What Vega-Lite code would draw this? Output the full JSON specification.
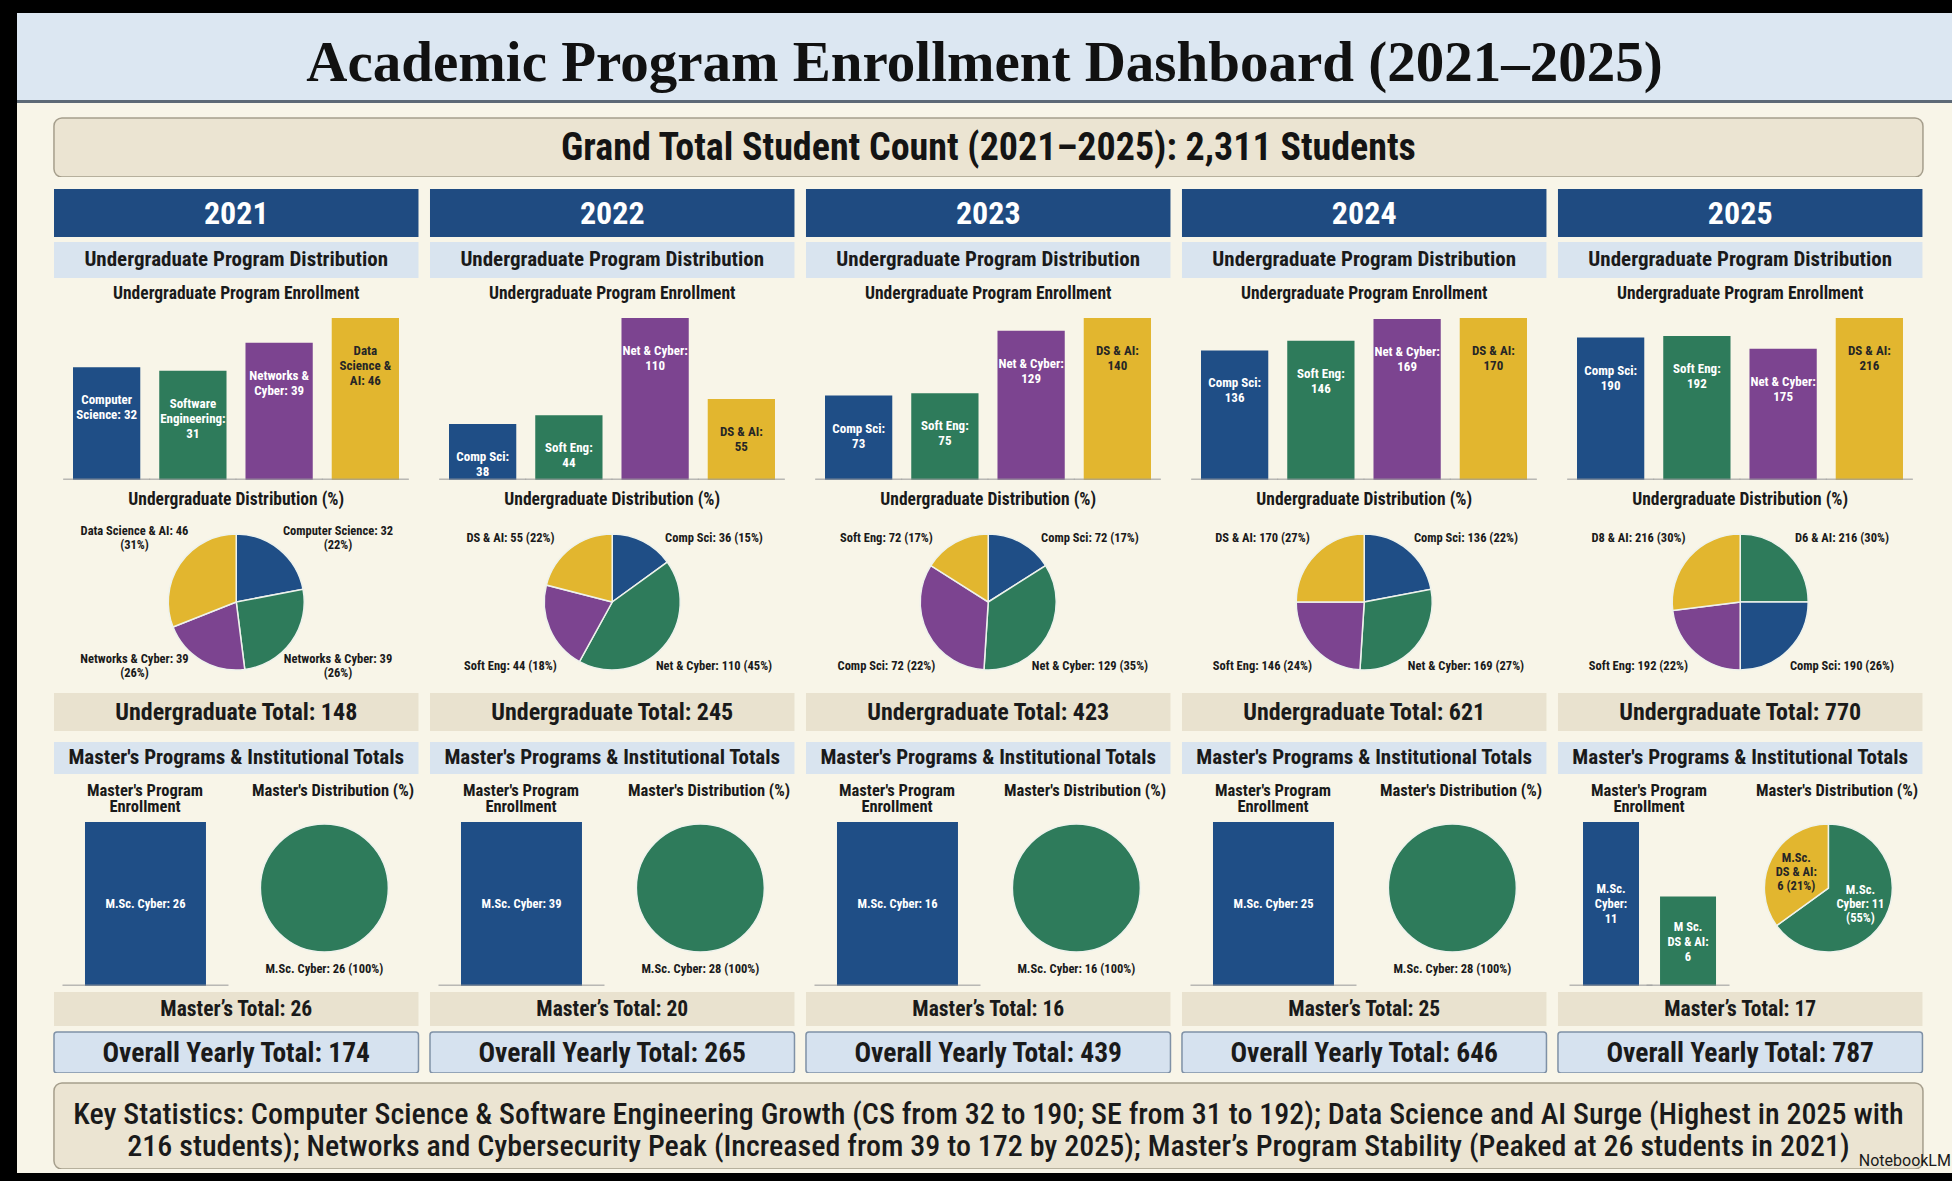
{
"$schema":"https://vega.github.io/schema/vega-lite/v6.json",
"background":"#000000",
"padding":{"left":17,"top":13,"right":0,"bottom":8},
"bounds":"flush",
"spacing":0,
"config":{"view":{"stroke":null,"fill":"#f8f5e8"},"concat":{"spacing":0},"facet":{"spacing":0},"axis":{"disable":true},
"text":{"font":"'Roboto Condensed','Noto Sans Condensed','Liberation Sans Narrow','DejaVu Sans Condensed',Roboto,sans-serif","lineBreak":"\n","color":"#1a1a1a","fontWeight":"bold"}},
"datasets":{
"yrs":[
{"year":"2021","ug":"Undergraduate Total: 148","ms":"Master’s Total: 26","all":"Overall Yearly Total: 174"},
{"year":"2022","ug":"Undergraduate Total: 245","ms":"Master’s Total: 20","all":"Overall Yearly Total: 265"},
{"year":"2023","ug":"Undergraduate Total: 423","ms":"Master’s Total: 16","all":"Overall Yearly Total: 439"},
{"year":"2024","ug":"Undergraduate Total: 621","ms":"Master’s Total: 25","all":"Overall Yearly Total: 646"},
{"year":"2025","ug":"Undergraduate Total: 770","ms":"Master’s Total: 17","all":"Overall Yearly Total: 787"}],
"mt":[
{"slot":"2021a","t":"Master's Program\nEnrollment"},{"slot":"2021b","t":"Master's Distribution (%)"},
{"slot":"2022a","t":"Master's Program\nEnrollment"},{"slot":"2022b","t":"Master's Distribution (%)"},
{"slot":"2023a","t":"Master's Program\nEnrollment"},{"slot":"2023b","t":"Master's Distribution (%)"},
{"slot":"2024a","t":"Master's Program\nEnrollment"},{"slot":"2024b","t":"Master's Distribution (%)"},
{"slot":"2025a","t":"Master's Program\nEnrollment"},{"slot":"2025b","t":"Master's Distribution (%)"}],
"ugb":[
{"year":"2021","prog":"CS","hue":"blue","v":32,"lab":"Computer\nScience: 32"},
{"year":"2021","prog":"SE","hue":"green","v":31,"lab":"Software\nEngineering:\n31"},
{"year":"2021","prog":"NC","hue":"purple","v":39,"lab":"Networks &\nCyber: 39"},
{"year":"2021","prog":"DS","hue":"yellow","v":46,"lab":"Data\nScience &\nAI: 46"},
{"year":"2022","prog":"CS","hue":"blue","v":38,"lab":"Comp Sci:\n38"},
{"year":"2022","prog":"SE","hue":"green","v":44,"lab":"Soft Eng:\n44"},
{"year":"2022","prog":"NC","hue":"purple","v":110,"lab":"Net & Cyber:\n110"},
{"year":"2022","prog":"DS","hue":"yellow","v":55,"lab":"DS & AI:\n55"},
{"year":"2023","prog":"CS","hue":"blue","v":73,"lab":"Comp Sci:\n73"},
{"year":"2023","prog":"SE","hue":"green","v":75,"lab":"Soft Eng:\n75"},
{"year":"2023","prog":"NC","hue":"purple","v":129,"lab":"Net & Cyber:\n129"},
{"year":"2023","prog":"DS","hue":"yellow","v":140,"lab":"DS & AI:\n140"},
{"year":"2024","prog":"CS","hue":"blue","v":136,"lab":"Comp Sci:\n136"},
{"year":"2024","prog":"SE","hue":"green","v":146,"lab":"Soft Eng:\n146"},
{"year":"2024","prog":"NC","hue":"purple","v":169,"lab":"Net & Cyber:\n169"},
{"year":"2024","prog":"DS","hue":"yellow","v":170,"lab":"DS & AI:\n170"},
{"year":"2025","prog":"CS","hue":"blue","v":190,"lab":"Comp Sci:\n190"},
{"year":"2025","prog":"SE","hue":"green","v":192,"lab":"Soft Eng:\n192"},
{"year":"2025","prog":"NC","hue":"purple","v":175,"lab":"Net & Cyber:\n175"},
{"year":"2025","prog":"DS","hue":"yellow","v":216,"lab":"DS & AI:\n216"}],
"ugp":[
{"year":"2021","hue":"blue","seq":1,"share":22,"lab":"Computer Science: 32\n(22%)"},
{"year":"2021","hue":"green","seq":2,"share":26,"lab":"Networks & Cyber: 39\n(26%)"},
{"year":"2021","hue":"purple","seq":3,"share":21,"lab":"Networks & Cyber: 39\n(26%)"},
{"year":"2021","hue":"yellow","seq":4,"share":31,"lab":"Data Science & AI: 46\n(31%)"},
{"year":"2022","hue":"blue","seq":1,"share":15,"lab":"Comp Sci: 36 (15%)"},
{"year":"2022","hue":"green","seq":2,"share":43,"lab":"Net & Cyber: 110 (45%)"},
{"year":"2022","hue":"purple","seq":3,"share":21,"lab":"Soft Eng: 44 (18%)"},
{"year":"2022","hue":"yellow","seq":4,"share":21,"lab":"DS & AI: 55 (22%)"},
{"year":"2023","hue":"blue","seq":1,"share":16,"lab":"Comp Sci: 72 (17%)"},
{"year":"2023","hue":"green","seq":2,"share":35,"lab":"Net & Cyber: 129 (35%)"},
{"year":"2023","hue":"purple","seq":3,"share":33,"lab":"Comp Sci: 72 (22%)"},
{"year":"2023","hue":"yellow","seq":4,"share":16,"lab":"Soft Eng: 72 (17%)"},
{"year":"2024","hue":"blue","seq":1,"share":22,"lab":"Comp Sci: 136 (22%)"},
{"year":"2024","hue":"green","seq":2,"share":29,"lab":"Net & Cyber: 169 (27%)"},
{"year":"2024","hue":"purple","seq":3,"share":24,"lab":"Soft Eng: 146 (24%)"},
{"year":"2024","hue":"yellow","seq":4,"share":25,"lab":"DS & AI: 170 (27%)"},
{"year":"2025","hue":"green","seq":1,"share":25,"lab":"D6 & AI: 216 (30%)"},
{"year":"2025","hue":"blue","seq":2,"share":25,"lab":"Comp Sci: 190 (26%)"},
{"year":"2025","hue":"purple","seq":3,"share":23,"lab":"Soft Eng: 192 (22%)"},
{"year":"2025","hue":"yellow","seq":4,"share":27,"lab":"D8 & AI: 216 (30%)"}],
"msb":[
{"year":"2021","prog":"Cyber","hue":"blue","v":26,"lab":"M.Sc. Cyber: 26"},
{"year":"2022","prog":"Cyber","hue":"blue","v":39,"lab":"M.Sc. Cyber: 39"},
{"year":"2023","prog":"Cyber","hue":"blue","v":16,"lab":"M.Sc. Cyber: 16"},
{"year":"2024","prog":"Cyber","hue":"blue","v":25,"lab":"M.Sc. Cyber: 25"},
{"year":"2025","prog":"Cyber","hue":"blue","v":11,"lab":"M.Sc.\nCyber:\n11"},
{"year":"2025","prog":"DS","hue":"green","v":6,"lab":"M Sc.\nDS & AI:\n6"}],
"msp":[
{"year":"2021","hue":"green","seq":1,"share":100,"lab":"M.Sc. Cyber: 26 (100%)"},
{"year":"2022","hue":"green","seq":1,"share":100,"lab":"M.Sc. Cyber: 28 (100%)"},
{"year":"2023","hue":"green","seq":1,"share":100,"lab":"M.Sc. Cyber: 16 (100%)"},
{"year":"2024","hue":"green","seq":1,"share":100,"lab":"M.Sc. Cyber: 28 (100%)"},
{"year":"2025","hue":"green","seq":1,"share":65,"lab":"M.Sc.\nCyber: 11\n(55%)"},
{"year":"2025","hue":"yellow","seq":2,"share":35,"lab":"M.Sc.\nDS & AI:\n6 (21%)"}]
},
"vconcat":[
{"width":1935,"height":87,"view":{"fill":"#dce7f2"},"data":{"values":[{"t":"Academic Program Enrollment Dashboard (2021–2025)"}]},"mark":{"type":"text","font":"Liberation Serif","fontWeight":"bold","fontSize":57,"color":"#111111","baseline":"middle","dy":7},"encoding":{"text":{"field":"t"}}},
{"width":1935,"height":3,"data":{"values":[{}]},"mark":{"type":"rect","width":{"band":1},"fill":"#5d6976"},"encoding":{"x":{"datum":"s","type":"nominal","axis":null,"scale":{"paddingInner":0,"paddingOuter":0}}}},
{"width":1935,"height":15,"data":{"values":[{}]},"mark":{"type":"rect","width":{"band":1},"fill":"#f8f5e8"},"encoding":{"x":{"datum":"s","type":"nominal","axis":null,"scale":{"paddingInner":0,"paddingOuter":0}}}},
{"width":1935,"height":59,"data":{"values":[{"k":"box","t":"Grand Total Student Count (2021–2025): 2,311 Students"}]},"encoding":{"x":{"field":"k","type":"nominal","axis":null,"scale":{"paddingInner":0,"paddingOuter":0.01766,"align":0.56}}},
 "layer":[{"mark":{"type":"rect","width":{"band":1},"fill":"#ebe4d2","stroke":"#a59e8c","strokeWidth":1.5,"cornerRadius":8}},
 {"mark":{"type":"text","fontSize":38,"baseline":"middle","dy":1,"color":"#141414"},"encoding":{"text":{"field":"t"}}}]},
{"width":1935,"height":12,"data":{"values":[{}]},"mark":{"type":"rect","width":{"band":1},"fill":"#f8f5e8"},"encoding":{"x":{"datum":"s","type":"nominal","axis":null,"scale":{"paddingInner":0,"paddingOuter":0}}}},
{"width":1935,"height":48,"data":{"name":"yrs"},"encoding":{"x":{"field":"year","type":"nominal","axis":null,"scale":{"type":"band","paddingInner":0.0306,"paddingOuter":0.0885,"align":0.556}}},
 "layer":[{"mark":{"type":"rect","width":{"band":1},"fill":"#1f4b81"}},{"mark":{"type":"text","fontSize":32,"color":"#ffffff","baseline":"middle","dy":1},"encoding":{"text":{"field":"year"}}}]},
{"width":1935,"height":5,"data":{"values":[{}]},"mark":{"type":"rect","width":{"band":1},"fill":"#f8f5e8"},"encoding":{"x":{"datum":"s","type":"nominal","axis":null,"scale":{"paddingInner":0,"paddingOuter":0}}}},
{"width":1935,"height":36,"data":{"name":"yrs"},"encoding":{"x":{"field":"year","type":"nominal","axis":null,"scale":{"type":"band","paddingInner":0.0306,"paddingOuter":0.0885,"align":0.556}}},
 "layer":[{"mark":{"type":"rect","width":{"band":1},"fill":"#d9e4ef"}},{"mark":{"type":"text","fontSize":21,"baseline":"middle","text":"Undergraduate Program Distribution"}}]},
{"width":1935,"height":40,"data":{"name":"yrs"},"mark":{"type":"text","fontSize":17.5,"baseline":"middle","dy":-4,"text":"Undergraduate Program Enrollment"},"encoding":{"x":{"field":"year","type":"nominal","axis":null,"scale":{"type":"band","paddingInner":0.0306,"paddingOuter":0.0885,"align":0.556}}}},
{"spacing":0,"hconcat":[
 {"width":31,"height":162,"data":{"values":[{}]},"mark":{"type":"rect","width":{"band":1},"fill":"#f8f5e8"},"encoding":{"x":{"datum":"s","type":"nominal","axis":null,"scale":{"paddingInner":0,"paddingOuter":0}}}},
 {"data":{"name":"ugb"},"spacing":0,"facet":{"column":{"field":"year","type":"nominal","title":null,"header":{"labels":false,"title":null}}},
  "resolve":{"scale":{"y":"independent"}},
  "spec":{"width":376,"height":162,
   "encoding":{"x":{"field":"prog","type":"nominal","axis":null,"sort":["CS","SE","NC","DS"],"scale":{"paddingInner":0.22,"paddingOuter":0.29}}},
   "layer":[
    {"mark":"bar","encoding":{"y":{"field":"v","type":"quantitative","axis":null,"scale":{"nice":false}},"color":{"field":"hue","type":"nominal","legend":null,"scale":{"domain":["blue","green","purple","yellow"],"range":["#1f4e86","#2e7b5b","#7c4490","#e2b62f"]}}}},
    {"mark":{"type":"tick","size":87,"thickness":3,"color":"#9e9e9e","clip":true},"encoding":{"y":{"datum":0,"type":"quantitative","axis":null}}},
    {"mark":{"type":"text","baseline":"top","dy":27,"fontSize":13,"lineHeight":15},"encoding":{"y":{"field":"v","type":"quantitative","axis":null},"text":{"field":"lab"},"color":{"condition":{"test":"datum.hue==='yellow'","value":"#262626"},"value":"#ffffff"}}}
   ]}},
 {"width":24,"height":162,"data":{"values":[{}]},"mark":{"type":"rect","width":{"band":1},"fill":"#f8f5e8"},"encoding":{"x":{"datum":"s","type":"nominal","axis":null,"scale":{"paddingInner":0,"paddingOuter":0}}}}
]},
{"width":1935,"height":162,"view":{"fill":"transparent"},"data":{"values":[]},"mark":"rect","encoding":{}},
{"width":1935,"height":34,"data":{"name":"yrs"},"mark":{"type":"text","fontSize":17.5,"baseline":"middle","dy":3,"text":"Undergraduate Distribution (%)"},"encoding":{"x":{"field":"year","type":"nominal","axis":null,"scale":{"type":"band","paddingInner":0.0306,"paddingOuter":0.0885,"align":0.556}}}},
{"width":1935,"height":176,"data":{"name":"ugp"},
 "encoding":{"x":{"field":"year","type":"nominal","axis":null,"scale":{"type":"band","paddingInner":0.0306,"paddingOuter":0.0885,"align":0.556}}},
 "layer":[
  {"transform":[{"stack":"share","groupby":["year"],"sort":[{"field":"seq","order":"ascending"}],"as":["t0","t1"]}],
   "mark":{"type":"arc","outerRadius":68,"stroke":"#eef2ec","strokeWidth":1.5},"encoding":{"theta":{"field":"t0","type":"quantitative","stack":null,"scale":{"domain":[0,100]}},"theta2":{"field":"t1"},"color":{"field":"hue","type":"nominal","legend":null,"scale":{"domain":["blue","green","purple","yellow"],"range":["#1f4e86","#2e7b5b","#7c4490","#e2b62f"]}}}},
  {"transform":[{"filter":"datum.year==='2021'"}],"mark":{"type":"text","radius":120,"dy":-7,"fontSize":12.5,"lineHeight":14,"baseline":"middle"},"encoding":{"theta":{"field":"seq","type":"quantitative","stack":null,"scale":{"domain":[1,2,3,4],"range":[1.012,2.129,4.154,5.271]}},"text":{"field":"lab"}}},
  {"transform":[{"filter":"datum.year!=='2021'"}],"mark":{"type":"text","radius":120,"fontSize":12.5,"baseline":"middle"},"encoding":{"theta":{"field":"seq","type":"quantitative","stack":null,"scale":{"domain":[1,2,3,4],"range":[1.012,2.129,4.154,5.271]}},"text":{"field":"lab"}}}
 ],
 "resolve":{"scale":{"theta":"independent"}}},
{"width":1935,"height":3,"data":{"values":[{}]},"mark":{"type":"rect","width":{"band":1},"fill":"#f8f5e8"},"encoding":{"x":{"datum":"s","type":"nominal","axis":null,"scale":{"paddingInner":0,"paddingOuter":0}}}},
{"width":1935,"height":38,"data":{"name":"yrs"},"encoding":{"x":{"field":"year","type":"nominal","axis":null,"scale":{"type":"band","paddingInner":0.0306,"paddingOuter":0.0885,"align":0.556}}},
 "layer":[{"mark":{"type":"rect","width":{"band":1},"fill":"#e9e2cf"}},{"mark":{"type":"text","fontSize":24,"baseline":"middle","dy":1},"encoding":{"text":{"field":"ug"}}}]},
{"width":1935,"height":11,"data":{"values":[{}]},"mark":{"type":"rect","width":{"band":1},"fill":"#f8f5e8"},"encoding":{"x":{"datum":"s","type":"nominal","axis":null,"scale":{"paddingInner":0,"paddingOuter":0}}}},
{"width":1935,"height":32,"data":{"name":"yrs"},"encoding":{"x":{"field":"year","type":"nominal","axis":null,"scale":{"type":"band","paddingInner":0.0306,"paddingOuter":0.0885,"align":0.556}}},
 "layer":[{"mark":{"type":"rect","width":{"band":1},"fill":"#d9e4ef"}},{"mark":{"type":"text","fontSize":21,"baseline":"middle","text":"Master's Programs & Institutional Totals"}}]},
{"width":1935,"height":48,"data":{"name":"mt"},"mark":{"type":"text","fontSize":16.5,"lineHeight":16,"baseline":"top","dy":-15},"encoding":{"x":{"field":"slot","type":"nominal","axis":null,"scale":{"type":"band","paddingInner":0,"paddingOuter":0.1463,"align":0.618}},"text":{"field":"t"}}},
{"spacing":0,"hconcat":[
 {"width":31,"height":164,"data":{"values":[{}]},"mark":{"type":"rect","width":{"band":1},"fill":"#f8f5e8"},"encoding":{"x":{"datum":"s","type":"nominal","axis":null,"scale":{"paddingInner":0,"paddingOuter":0}}}},
 {"width":188,"height":164,"data":{"name":"msb"},"transform":[{"filter":"datum.year==='2021'"}],"encoding":{"x":{"field":"prog","type":"nominal","axis":null,"scale":{"paddingInner":0,"paddingOuter":0.277,"align":0.552}}},
  "layer":[{"mark":"bar","encoding":{"y":{"field":"v","type":"quantitative","axis":null,"scale":{"nice":false}},"color":{"field":"hue","type":"nominal","legend":null,"scale":{"domain":["blue","green","purple","yellow"],"range":["#1f4e86","#2e7b5b","#7c4490","#e2b62f"]}}}},
   {"mark":{"type":"tick","size":166,"thickness":3,"color":"#9e9e9e","clip":true},"encoding":{"y":{"datum":0,"type":"quantitative","axis":null}}},
   {"mark":{"type":"text","baseline":"middle","dy":82,"fontSize":12.5,"color":"#ffffff"},"encoding":{"y":{"field":"v","type":"quantitative","axis":null},"text":{"field":"lab"}}}]},
 {"width":188,"height":164,"data":{"name":"msp"},"transform":[{"filter":"datum.year==='2021'"}],
  "encoding":{"x":{"datum":"c","type":"nominal","axis":null,"scale":{"paddingInner":0,"paddingOuter":0}}},
  "layer":[{"mark":{"type":"rect","width":{"band":1},"fill":"#f8f5e8"}},
   {"mark":{"type":"arc","outerRadius":64,"yOffset":-16,"stroke":"#eef2ec","strokeWidth":1.5},"encoding":{"x":{"datum":"c","type":"nominal","bandPosition":0.47},"theta":{"field":"share","type":"quantitative","stack":true},"order":{"field":"seq","type":"quantitative"},"color":{"field":"hue","type":"nominal","legend":null,"scale":{"domain":["blue","green","purple","yellow"],"range":["#1f4e86","#2e7b5b","#7c4490","#e2b62f"]}}}},
   {"mark":{"type":"text","radius":81,"dy":-16,"fontSize":12.5,"baseline":"middle"},"encoding":{"x":{"datum":"c","type":"nominal","bandPosition":0.47},"theta":{"field":"share","type":"quantitative","stack":true},"order":{"field":"seq","type":"quantitative"},"text":{"field":"lab"}}}]},
 {"width":188,"height":164,"data":{"name":"msb"},"transform":[{"filter":"datum.year==='2022'"}],"encoding":{"x":{"field":"prog","type":"nominal","axis":null,"scale":{"paddingInner":0,"paddingOuter":0.277,"align":0.552}}},
  "layer":[{"mark":"bar","encoding":{"y":{"field":"v","type":"quantitative","axis":null,"scale":{"nice":false}},"color":{"field":"hue","type":"nominal","legend":null,"scale":{"domain":["blue","green","purple","yellow"],"range":["#1f4e86","#2e7b5b","#7c4490","#e2b62f"]}}}},
   {"mark":{"type":"tick","size":166,"thickness":3,"color":"#9e9e9e","clip":true},"encoding":{"y":{"datum":0,"type":"quantitative","axis":null}}},
   {"mark":{"type":"text","baseline":"middle","dy":82,"fontSize":12.5,"color":"#ffffff"},"encoding":{"y":{"field":"v","type":"quantitative","axis":null},"text":{"field":"lab"}}}]},
 {"width":188,"height":164,"data":{"name":"msp"},"transform":[{"filter":"datum.year==='2022'"}],
  "encoding":{"x":{"datum":"c","type":"nominal","axis":null,"scale":{"paddingInner":0,"paddingOuter":0}}},
  "layer":[{"mark":{"type":"rect","width":{"band":1},"fill":"#f8f5e8"}},
   {"mark":{"type":"arc","outerRadius":64,"yOffset":-16,"stroke":"#eef2ec","strokeWidth":1.5},"encoding":{"x":{"datum":"c","type":"nominal","bandPosition":0.47},"theta":{"field":"share","type":"quantitative","stack":true},"order":{"field":"seq","type":"quantitative"},"color":{"field":"hue","type":"nominal","legend":null,"scale":{"domain":["blue","green","purple","yellow"],"range":["#1f4e86","#2e7b5b","#7c4490","#e2b62f"]}}}},
   {"mark":{"type":"text","radius":81,"dy":-16,"fontSize":12.5,"baseline":"middle"},"encoding":{"x":{"datum":"c","type":"nominal","bandPosition":0.47},"theta":{"field":"share","type":"quantitative","stack":true},"order":{"field":"seq","type":"quantitative"},"text":{"field":"lab"}}}]},
 {"width":188,"height":164,"data":{"name":"msb"},"transform":[{"filter":"datum.year==='2023'"}],"encoding":{"x":{"field":"prog","type":"nominal","axis":null,"scale":{"paddingInner":0,"paddingOuter":0.277,"align":0.552}}},
  "layer":[{"mark":"bar","encoding":{"y":{"field":"v","type":"quantitative","axis":null,"scale":{"nice":false}},"color":{"field":"hue","type":"nominal","legend":null,"scale":{"domain":["blue","green","purple","yellow"],"range":["#1f4e86","#2e7b5b","#7c4490","#e2b62f"]}}}},
   {"mark":{"type":"tick","size":166,"thickness":3,"color":"#9e9e9e","clip":true},"encoding":{"y":{"datum":0,"type":"quantitative","axis":null}}},
   {"mark":{"type":"text","baseline":"middle","dy":82,"fontSize":12.5,"color":"#ffffff"},"encoding":{"y":{"field":"v","type":"quantitative","axis":null},"text":{"field":"lab"}}}]},
 {"width":188,"height":164,"data":{"name":"msp"},"transform":[{"filter":"datum.year==='2023'"}],
  "encoding":{"x":{"datum":"c","type":"nominal","axis":null,"scale":{"paddingInner":0,"paddingOuter":0}}},
  "layer":[{"mark":{"type":"rect","width":{"band":1},"fill":"#f8f5e8"}},
   {"mark":{"type":"arc","outerRadius":64,"yOffset":-16,"stroke":"#eef2ec","strokeWidth":1.5},"encoding":{"x":{"datum":"c","type":"nominal","bandPosition":0.47},"theta":{"field":"share","type":"quantitative","stack":true},"order":{"field":"seq","type":"quantitative"},"color":{"field":"hue","type":"nominal","legend":null,"scale":{"domain":["blue","green","purple","yellow"],"range":["#1f4e86","#2e7b5b","#7c4490","#e2b62f"]}}}},
   {"mark":{"type":"text","radius":81,"dy":-16,"fontSize":12.5,"baseline":"middle"},"encoding":{"x":{"datum":"c","type":"nominal","bandPosition":0.47},"theta":{"field":"share","type":"quantitative","stack":true},"order":{"field":"seq","type":"quantitative"},"text":{"field":"lab"}}}]},
 {"width":188,"height":164,"data":{"name":"msb"},"transform":[{"filter":"datum.year==='2024'"}],"encoding":{"x":{"field":"prog","type":"nominal","axis":null,"scale":{"paddingInner":0,"paddingOuter":0.277,"align":0.552}}},
  "layer":[{"mark":"bar","encoding":{"y":{"field":"v","type":"quantitative","axis":null,"scale":{"nice":false}},"color":{"field":"hue","type":"nominal","legend":null,"scale":{"domain":["blue","green","purple","yellow"],"range":["#1f4e86","#2e7b5b","#7c4490","#e2b62f"]}}}},
   {"mark":{"type":"tick","size":166,"thickness":3,"color":"#9e9e9e","clip":true},"encoding":{"y":{"datum":0,"type":"quantitative","axis":null}}},
   {"mark":{"type":"text","baseline":"middle","dy":82,"fontSize":12.5,"color":"#ffffff"},"encoding":{"y":{"field":"v","type":"quantitative","axis":null},"text":{"field":"lab"}}}]},
 {"width":188,"height":164,"data":{"name":"msp"},"transform":[{"filter":"datum.year==='2024'"}],
  "encoding":{"x":{"datum":"c","type":"nominal","axis":null,"scale":{"paddingInner":0,"paddingOuter":0}}},
  "layer":[{"mark":{"type":"rect","width":{"band":1},"fill":"#f8f5e8"}},
   {"mark":{"type":"arc","outerRadius":64,"yOffset":-16,"stroke":"#eef2ec","strokeWidth":1.5},"encoding":{"x":{"datum":"c","type":"nominal","bandPosition":0.47},"theta":{"field":"share","type":"quantitative","stack":true},"order":{"field":"seq","type":"quantitative"},"color":{"field":"hue","type":"nominal","legend":null,"scale":{"domain":["blue","green","purple","yellow"],"range":["#1f4e86","#2e7b5b","#7c4490","#e2b62f"]}}}},
   {"mark":{"type":"text","radius":81,"dy":-16,"fontSize":12.5,"baseline":"middle"},"encoding":{"x":{"datum":"c","type":"nominal","bandPosition":0.47},"theta":{"field":"share","type":"quantitative","stack":true},"order":{"field":"seq","type":"quantitative"},"text":{"field":"lab"}}}]},
 {"width":188,"height":164,"data":{"name":"msb"},"transform":[{"filter":"datum.year==='2025'"}],"encoding":{"x":{"field":"prog","type":"nominal","axis":null,"sort":["Cyber","DS"],"scale":{"paddingInner":0.273,"paddingOuter":0.357,"align":0.564}}},
  "layer":[{"mark":"bar","encoding":{"y":{"field":"v","type":"quantitative","axis":null,"scale":{"nice":false}},"color":{"field":"hue","type":"nominal","legend":null,"scale":{"domain":["blue","green","purple","yellow"],"range":["#1f4e86","#2e7b5b","#7c4490","#e2b62f"]}}}},
   {"mark":{"type":"tick","size":83,"thickness":3,"color":"#9e9e9e","clip":true},"encoding":{"y":{"datum":0,"type":"quantitative","axis":null}}},
   {"transform":[{"filter":"datum.prog==='Cyber'"}],"mark":{"type":"text","baseline":"middle","dy":67,"fontSize":12.5,"lineHeight":15,"color":"#ffffff"},"encoding":{"y":{"field":"v","type":"quantitative","axis":null},"text":{"field":"lab"}}},
   {"transform":[{"filter":"datum.prog==='DS'"}],"mark":{"type":"text","baseline":"middle","dy":30,"fontSize":12.5,"lineHeight":15,"color":"#ffffff"},"encoding":{"y":{"field":"v","type":"quantitative","axis":null},"text":{"field":"lab"}}}]},
 {"width":188,"height":164,"data":{"name":"msp"},"transform":[{"filter":"datum.year==='2025'"}],
  "encoding":{"x":{"datum":"c","type":"nominal","axis":null,"scale":{"paddingInner":0,"paddingOuter":0}}},
  "layer":[{"mark":{"type":"rect","width":{"band":1},"fill":"#f8f5e8"}},
   {"mark":{"type":"arc","outerRadius":64,"yOffset":-16,"stroke":"#eef2ec","strokeWidth":1.5},"encoding":{"x":{"datum":"c","type":"nominal","bandPosition":0.47},"theta":{"field":"share","type":"quantitative","stack":true},"order":{"field":"seq","type":"quantitative"},"color":{"field":"hue","type":"nominal","legend":null,"scale":{"domain":["blue","green","purple","yellow"],"range":["#1f4e86","#2e7b5b","#7c4490","#e2b62f"]}}}},
   {"mark":{"type":"text","radius":36,"dy":-30,"fontSize":12.5,"lineHeight":14,"baseline":"middle"},"encoding":{"x":{"datum":"c","type":"nominal","bandPosition":0.47},"theta":{"field":"share","type":"quantitative","stack":true},"order":{"field":"seq","type":"quantitative"},"text":{"field":"lab"},"color":{"condition":{"test":"datum.hue==='yellow'","value":"#262626"},"value":"#ffffff"}}}]},
 {"width":24,"height":164,"data":{"values":[{}]},"mark":{"type":"rect","width":{"band":1},"fill":"#f8f5e8"},"encoding":{"x":{"datum":"s","type":"nominal","axis":null,"scale":{"paddingInner":0,"paddingOuter":0}}}}
]},
{"width":1935,"height":164,"view":{"fill":"transparent"},"data":{"values":[]},"mark":"rect","encoding":{}},
{"width":1935,"height":6,"data":{"values":[{}]},"mark":{"type":"rect","width":{"band":1},"fill":"#f8f5e8"},"encoding":{"x":{"datum":"s","type":"nominal","axis":null,"scale":{"paddingInner":0,"paddingOuter":0}}}},
{"width":1935,"height":34,"data":{"name":"yrs"},"encoding":{"x":{"field":"year","type":"nominal","axis":null,"scale":{"type":"band","paddingInner":0.0306,"paddingOuter":0.0885,"align":0.556}}},
 "layer":[{"mark":{"type":"rect","width":{"band":1},"fill":"#e9e2cf"}},{"mark":{"type":"text","fontSize":21.5,"baseline":"middle","dy":1},"encoding":{"text":{"field":"ms"}}}]},
{"width":1935,"height":6,"data":{"values":[{}]},"mark":{"type":"rect","width":{"band":1},"fill":"#f8f5e8"},"encoding":{"x":{"datum":"s","type":"nominal","axis":null,"scale":{"paddingInner":0,"paddingOuter":0}}}},
{"width":1935,"height":41,"data":{"name":"yrs"},"encoding":{"x":{"field":"year","type":"nominal","axis":null,"scale":{"type":"band","paddingInner":0.0306,"paddingOuter":0.0885,"align":0.556}}},
 "layer":[{"mark":{"type":"rect","width":{"band":1},"fill":"#d6e2ef","stroke":"#7f91a6","strokeWidth":1.5,"cornerRadius":3}},{"mark":{"type":"text","fontSize":27.5,"baseline":"middle","dy":1},"encoding":{"text":{"field":"all"}}}]},
{"width":1935,"height":10,"data":{"values":[{}]},"mark":{"type":"rect","width":{"band":1},"fill":"#f8f5e8"},"encoding":{"x":{"datum":"s","type":"nominal","axis":null,"scale":{"paddingInner":0,"paddingOuter":0}}}},
{"width":1935,"height":86,"data":{"values":[{"k":"box","t":"Key Statistics: Computer Science & Software Engineering Growth (CS from 32 to 190; SE from 31 to 192); Data Science and AI Surge (Highest in 2025 with\n216 students); Networks and Cybersecurity Peak (Increased from 39 to 172 by 2025); Master’s Program Stability (Peaked at 26 students in 2021)","w":"NotebookLM"}]},"encoding":{"x":{"field":"k","type":"nominal","axis":null,"scale":{"paddingInner":0,"paddingOuter":0.01766,"align":0.56}}},
 "layer":[{"mark":{"type":"rect","width":{"band":1},"fill":"#ebe4d2","stroke":"#a59e8c","strokeWidth":1.5,"cornerRadius":8}},
 {"mark":{"type":"text","fontSize":30,"fontWeight":500,"lineHeight":32,"baseline":"middle","dy":-11},"encoding":{"text":{"field":"t"}}},
 {"mark":{"type":"text","fontSize":16,"fontWeight":"normal","font":"Roboto","align":"right","baseline":"bottom","dx":28,"dy":43},"encoding":{"x":{"datum":"box","bandPosition":1},"text":{"field":"w"}}}]},
{"width":1935,"height":4,"data":{"values":[{}]},"mark":{"type":"rect","width":{"band":1},"fill":"#f8f5e8"},"encoding":{"x":{"datum":"s","type":"nominal","axis":null,"scale":{"paddingInner":0,"paddingOuter":0}}}}
]
}
